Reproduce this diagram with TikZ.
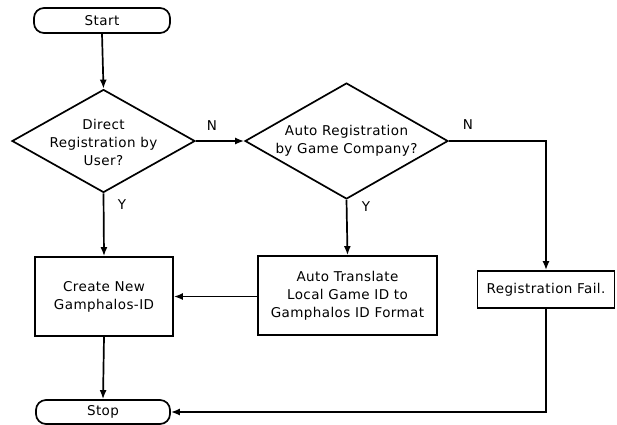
\documentclass[tikz,border=0pt]{standalone}
\usepackage{fontspec}
\setmainfont{DejaVu Sans}[LetterSpace=3]
\usetikzlibrary{shapes.geometric,arrows.meta}
\begin{document}
\begin{tikzpicture}[x=1pt,y=-1pt,
  every node/.style={font=\fontsize{13.5}{18}\selectfont, align=center},
  box/.style={draw, line width=1.7pt, inner sep=0pt},
  term/.style={box, rounded corners=10pt},
  dec/.style={draw, line width=1.7pt, shape=diamond, inner sep=0pt},
  lbl/.style={inner sep=0pt},
  conn/.style={line width=1.7pt, -{Latex[length=9pt,width=7pt]}},
  plain/.style={line width=1.7pt}]
\useasboundingbox (0,0) rectangle (617,424);
\node[term, minimum width=136pt, minimum height=25pt] (start) at (102,20.5) {Start};
\node[dec, minimum width=183pt, minimum height=103pt] (d1) at (103.5,141) {};
\node[lbl] (d1t) at (103.5,142) {Direct\\Registration by\\User?};
\node[dec, minimum width=203pt, minimum height=116pt] (d2) at (346.5,141) {};
\node[lbl] (d2t) at (346.5,141) {Auto Registration\\by Game Company?};
\node[box, minimum width=138pt, minimum height=79pt] (create) at (104,296.5) {Create New\\Gamphalos-ID};
\node[box, minimum width=179pt, minimum height=79pt] (trans) at (347.5,295.5) {Auto Translate\\Local Game ID to\\Gamphalos ID Format};
\node[box, minimum width=137pt, minimum height=37pt] (fail) at (546,289.5) {Registration Fail.};
\node[term, minimum width=134pt, minimum height=24pt] (stop) at (103,412) {Stop};
\node[lbl] (n1) at (212,126) {N};
\node[lbl] (n2) at (468,125) {N};
\node[lbl] (y1) at (122,205) {Y};
\node[lbl] (y2) at (366,207) {Y};
\coordinate (c1) at (546,141);
\draw[conn] (start.south) -- (d1.north);
\draw[conn] (d1.east) -- (d2.west);
\draw[conn] (d2.east) -- (c1) -- (fail.north);
\draw[conn] (d1.south) -- (create.north);
\draw[conn] (d2.south) -- (trans.north);
\draw[conn] (trans.west |- create.east) -- (create.east);
\draw[conn] (create.south) -- (stop.north);
\draw[conn] (fail.south) |- (stop.east);
\end{tikzpicture}
\end{document}
